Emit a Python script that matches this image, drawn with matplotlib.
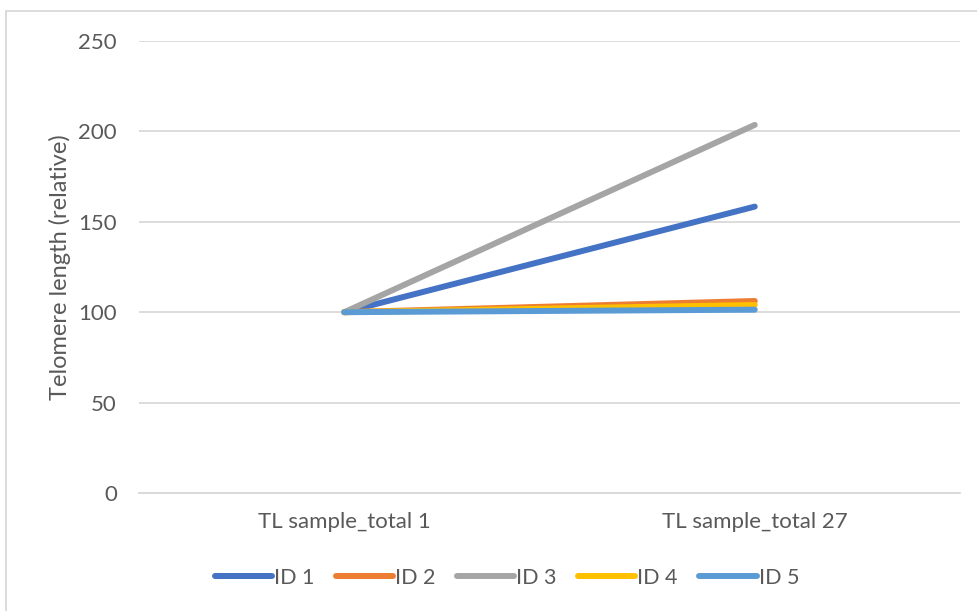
import matplotlib.pyplot as plt
from matplotlib.patches import Rectangle

categories = ["TL sample_total 1", "TL sample_total 27"]
series_names = ["ID 1", "ID 2", "ID 3", "ID 4", "ID 5"]
id1 = [100, 158.4]
id2 = [100, 106.2]
id3 = [100, 203.6]
id4 = [100, 104.0]
id5 = [100, 101.4]
series_values = [id1, id2, id3, id4, id5]
colors = ["#4472C4", "#ED7D31", "#A5A5A5", "#FFC000", "#5B9BD5"]
yticks = [0, 50, 100, 150, 200, 250]

plt.rcParams['font.family'] = ['Lato', 'DejaVu Sans']
text_color = "#595959"

fig = plt.figure(figsize=(9.77, 6.11), dpi=100)
ax = fig.add_axes([139 / 977, 1 - 493 / 611, (960 - 139) / 977, (493 - 41) / 611])

x = list(range(len(categories)))
for name, vals, c in zip(series_names, series_values, colors):
    ax.plot(x, vals, color=c, lw=4.3, solid_capstyle='round', label=name)

ax.set_xlim(-0.5, len(categories) - 0.5)
ax.set_ylim(0, 250)
ax.set_yticks(yticks)
ax.set_xticks(x)
ax.set_xticklabels(categories)
ax.yaxis.grid(True, color="#D9D9D9", lw=1.3)
ax.set_axisbelow(True)
for s in ax.spines.values():
    s.set_visible(False)
ax.spines['bottom'].set_visible(True)
ax.spines['bottom'].set_color("#D9D9D9")
ax.spines['bottom'].set_linewidth(1.3)
ax.tick_params(axis='both', length=0, labelsize=16, colors=text_color)
ax.tick_params(axis='y', pad=16)
ax.tick_params(axis='x', pad=14)
ax.set_ylabel("Telomere length (relative)", fontsize=17, color=text_color, labelpad=5)

leg = fig.legend(loc='center', bbox_to_anchor=(507 / 977, 1 - 578 / 611), ncol=5,
                 frameon=False, fontsize=15.5, handlelength=2.65, columnspacing=1.0,
                 handletextpad=0.1)
for t in leg.get_texts():
    t.set_color(text_color)

fig.patches.append(Rectangle((6 / 977, -0.1), 1.1, 1 - 11 / 611 + 0.1,
                             transform=fig.transFigure, fill=False,
                             edgecolor="#D9D9D9", lw=1.3))

fig.savefig("out.png", dpi=100)
